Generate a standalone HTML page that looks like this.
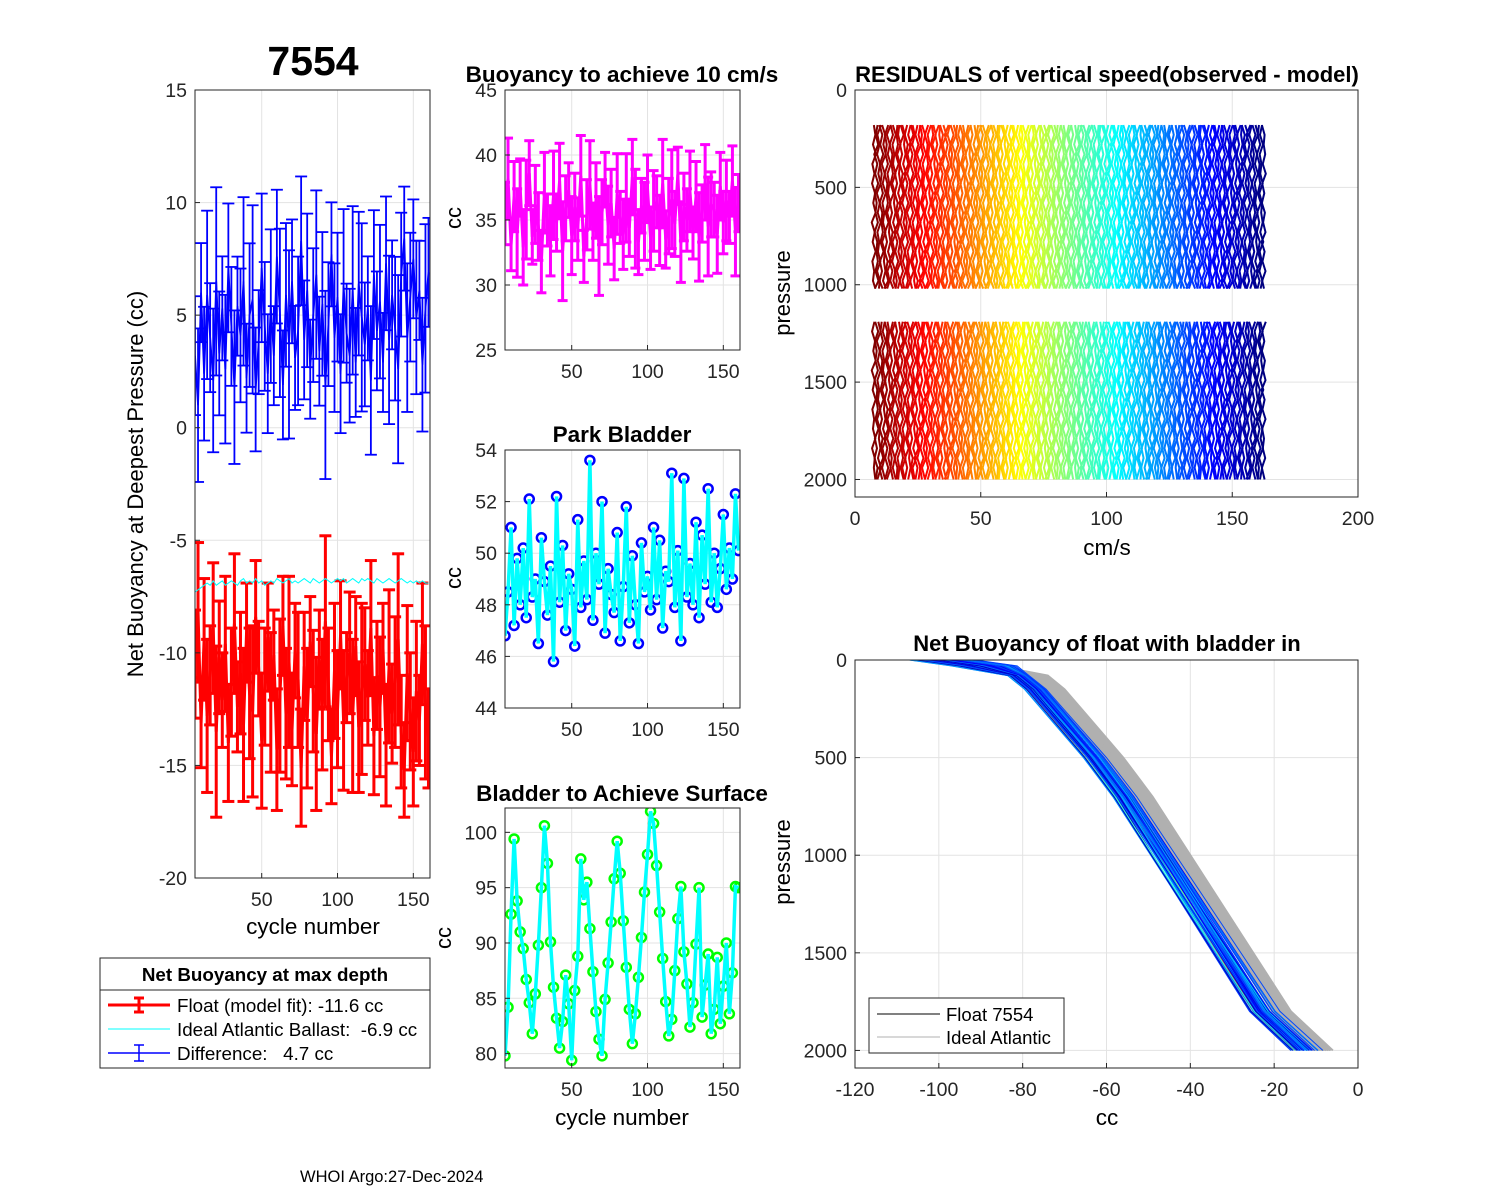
<!DOCTYPE html>
<html><head><meta charset="utf-8"><style>
body{margin:0;background:#fff;}
svg{display:block;font-family:"Liberation Sans",Arial,sans-serif;}
</style></head><body>
<svg id="fig" width="1500" height="1200" viewBox="0 0 1500 1200">
<rect width="1500" height="1200" fill="#fff"/>
<text x="313" y="75" font-size="41" font-weight="bold" text-anchor="middle">7554</text>
<text x="300" y="1182" font-size="16.5">WHOI Argo:27-Dec-2024</text>
</svg>
<script>
// ---------- data ----------
const cycles = [];
for (let c = 6; c <= 160; c += 2) cycles.push(c);
const floatFit = [-10.5,-8.2,-13.1,-9.4,-12.8,-11.0,-8.9,-13.5,-10.2,-12.1,-9.6,-14.0,-11.3,-8.7,-12.4,-10.9,-13.2,-9.1,-11.8,-12.6,-8.4,-10.7,-13.9,-11.5,-9.3,-12.2,-10.1,-14.3,-11.9,-8.8,-12.7,-10.4,-13.4,-9.9,-11.2,-15.1,-10.6,-12.9,-9.5,-11.7,-13.6,-10.3,-12.3,-8.6,-11.4,-14.6,-10.8,-12.5,-9.2,-13.0,-11.1,-10.0,-12.8,-9.7,-13.3,-11.6,-10.5,-12.0,-8.9,-13.7,-11.0,-12.4,-9.8,-14.1,-10.6,-12.7,-11.3,-9.4,-13.5,-15.2,-10.9,-12.6,-14.4,-11.7,-13.0,-9.6,-12.2,-13.8];
const floatErr = [2.4,3.1,2.0,2.7,3.4,2.2,2.9,3.8,2.5,2.1,3.0,2.6];
const idealBallast = [-7.3,-7.2,-7.1,-7.0,-6.9,-7.0,-6.8,-7.0,-6.9,-6.8,-7.0,-6.9,-6.8,-6.9,-7.0,-6.8,-6.7,-6.9,-6.8,-6.9,-6.7,-6.9,-6.8,-7.0,-6.9,-6.8,-6.9,-6.7,-6.8,-6.9,-6.8,-6.7,-6.9,-6.8,-6.9,-6.8,-6.7,-6.8,-6.9,-6.7,-6.8,-6.9,-6.8,-6.7,-6.8,-6.9,-6.8,-6.7,-6.8,-6.7,-6.9,-6.8,-6.7,-6.8,-6.9,-6.7,-6.8,-6.7,-6.8,-6.9,-6.7,-6.8,-6.9,-6.8,-6.7,-6.8,-6.9,-6.8,-6.7,-6.8,-6.9,-6.8,-6.9,-6.8,-6.9,-6.8,-6.9,-6.9];
const speedBuoy = [35.5,38.2,33.1,36.8,34.0,37.5,32.9,35.8,38.6,33.7,36.2,34.5,31.8,37.1,35.0,33.4,36.9,34.8,38.0,32.6,35.9,37.3,33.8,36.0,34.3,38.4,32.2,35.4,37.7,34.1,36.5,33.0,35.6,38.1,34.6,36.3,32.8,37.0,35.2,33.9,36.7,34.4,38.3,35.1,33.3,36.1,34.9,37.4,33.6,35.7,36.4,34.2,37.8,33.5,35.3,36.6,34.7,38.5,33.2,36.0,35.0,37.2,34.0,36.8,33.7,35.5,37.9,34.5,36.2,35.8,33.9,37.6,34.8,36.5,35.2,38.0,34.1,36.3];
const parkBladder = [46.8,48.5,51.0,47.2,49.8,48.0,50.2,47.5,52.1,48.3,49.0,46.5,50.6,48.9,47.6,49.5,45.8,52.2,48.1,50.3,47.0,49.2,48.6,46.4,51.3,47.9,49.7,48.2,53.6,47.4,50.0,48.8,52.0,46.9,49.4,48.4,47.7,50.8,46.6,48.7,51.8,47.3,49.9,48.0,46.5,50.4,48.5,49.1,47.8,51.0,48.2,50.5,47.1,49.3,48.9,53.1,47.9,50.1,46.6,52.9,48.3,49.6,48.0,51.2,47.5,50.7,48.8,52.5,48.1,50.0,47.9,49.4,51.5,48.6,50.2,49.0,52.3,50.1];
const surfBladder = [79.8,84.2,92.6,99.4,93.8,91.0,89.5,86.7,84.6,81.8,85.4,89.8,95.0,100.6,97.2,90.1,86.0,83.2,80.5,82.9,87.1,84.5,79.4,85.7,88.8,97.6,93.9,95.5,91.3,87.4,83.8,81.3,79.8,84.9,88.2,91.9,95.8,99.2,96.3,92.0,87.8,84.0,80.9,83.6,86.9,90.5,94.6,98.0,101.9,100.8,97.0,92.8,88.6,84.7,81.6,83.1,87.5,92.2,95.1,89.2,86.3,82.4,84.6,89.9,95.0,83.3,86.2,89.0,81.8,84.0,88.7,82.7,86.1,90.0,83.6,87.3,95.1,95.0];
const residualWiggle = [0.0,0.5,-0.3,0.7,-0.5,0.2,-0.6,0.4,-0.2,0.6,-0.7,0.3,-0.4,0.6,-0.5,0.1,-0.3,0.5,-0.6,0.3];
const resDepth1 = [180,230,280,330,380,430,480,530,580,630,680,730,780,830,880,930,980,1020];
const resDepth2 = [1190,1240,1290,1340,1390,1440,1490,1540,1590,1640,1690,1740,1790,1840,1890,1940,2000];
const profPressure = [0,30,80,150,250,400,500,700,1000,1300,1600,1800,2000];
const profCC = [-98,-88,-80,-76,-72,-66,-62,-55,-46,-37,-28,-22,-12];
const idealOffsets = [1.5,2.0,2.5,3.0,3.5,4.0,4.5,5.0,5.5,6.0,2.2,2.8,3.3,3.8,4.3,4.8,5.3,1.8,2.6,3.6];

const NS = "http://www.w3.org/2000/svg";
const svg = document.getElementById('fig');
function el(tag, attrs, parent) {
  const e = document.createElementNS(NS, tag);
  for (const k in attrs) e.setAttribute(k, attrs[k]);
  (parent || svg).appendChild(e);
  return e;
}
function jet(t) {
  const r = Math.min(Math.max(Math.min(4*t-1.5, -4*t+4.5),0),1);
  const g = Math.min(Math.max(Math.min(4*t-0.5, -4*t+3.5),0),1);
  const b = Math.min(Math.max(Math.min(4*t+0.5, -4*t+2.5),0),1);
  return `rgb(${Math.round(r*255)},${Math.round(g*255)},${Math.round(b*255)})`;
}
function axes(name, x0, y0, w, h, xmin, xmax, ymin, ymax, rev, xticks, yticks) {
  const g = el('g', {}, svg);
  
  
  el('rect', {x:x0, y:y0, width:w, height:h, fill:'#fff'}, g);
  const sx = v => x0 + (v - xmin) / (xmax - xmin) * w;
  const sy = v => rev ? y0 + (v - ymin) / (ymax - ymin) * h : y0 + h - (v - ymin) / (ymax - ymin) * h;
  const grid = el('g', {stroke:'#e3e3e3', 'stroke-width':1}, g);
  xticks.forEach(t => { el('line', {x1:sx(t), x2:sx(t), y1:y0, y2:y0+h}, grid); });
  yticks.forEach(t => { el('line', {x1:x0, x2:x0+w, y1:sy(t), y2:sy(t)}, grid); });
  const plot = el('g', {}, g);
  const over = el('g', {}, svg);
  el('rect', {x:x0, y:y0, width:w, height:h, fill:'none', stroke:'#262626', 'stroke-width':1}, over);
  xticks.forEach(t => {
    el('line', {x1:sx(t), x2:sx(t), y1:y0+h, y2:y0+h-5, stroke:'#262626'}, over);
    const tx = el('text', {x:sx(t), y:y0+h+28, 'font-size':19.5, 'text-anchor':'middle', fill:'#262626'}, over);
    
    
    tx.textContent = t;
  });
  yticks.forEach(t => {
    el('line', {x1:x0, x2:x0+5, y1:sy(t), y2:sy(t), stroke:'#262626'}, over);
    const tx = el('text', {x:x0-8, y:sy(t)+7, 'font-size':19.5, 'text-anchor':'end', fill:'#262626'}, over);
    
    
    tx.textContent = t;
  });
  const clipId = name + '-clip';
  const cp = el('clipPath', {id:clipId}, svg);
  el('rect', {x:x0, y:y0, width:w, height:h}, cp);
  plot.setAttribute('clip-path', `url(#${clipId})`);
  return {sx, sy, plot};
}
function label(txt, x, y, size, opts) {
  const t = el('text', Object.assign({x, y, 'font-size':size, 'text-anchor':'middle', fill:'#000'}, opts||{}));
  t.textContent = txt;
  return t;
}
function errbar(A, xs, ys, es, color, lw, cap, name) {
  const g = el('g', {stroke:color, 'stroke-width':lw, fill:'none'}, A.plot);
  
  
  xs.forEach((x, i) => {
    const px = A.sx(x), e = es[i % es.length];
    el('line', {x1:px, x2:px, y1:A.sy(ys[i]-e), y2:A.sy(ys[i]+e)}, g);
    el('line', {x1:px-cap, x2:px+cap, y1:A.sy(ys[i]-e), y2:A.sy(ys[i]-e)}, g);
    el('line', {x1:px-cap, x2:px+cap, y1:A.sy(ys[i]+e), y2:A.sy(ys[i]+e)}, g);
  });
  el('polyline', {points: xs.map((x,i)=>A.sx(x)+','+A.sy(ys[i])).join(' ')}, g);
}

// ---------- panel 1 ----------
const A1 = axes('net-buoyancy-axes', 195, 90, 235, 788, 6, 161, -20, 15, false, [50,100,150], [-20,-15,-10,-5,0,5,10,15]);
errbar(A1, cycles, floatFit, floatErr, '#ff0000', 3, 6, 'float-model-fit-series');
const diff = floatFit.map((v,i)=> idealBallast[i] - v);
errbar(A1, cycles, diff, floatErr.map(e=>e*1.1), '#0000ff', 1.8, 6, 'difference-series');
const cy = el('polyline', {points: cycles.map((x,i)=>A1.sx(x)+','+A1.sy(idealBallast[i])).join(' '), stroke:'#00ffff', fill:'none', 'stroke-width':1}, A1.plot);


let t = label('Net Buoyancy at Deepest Pressure (cc)', 0, 0, 22, {transform:'translate(143,484) rotate(-90)'});
 
t = label('cycle number', 313, 934, 22.5);  

// ---------- panel 2 ----------
const A2 = axes('speed-buoyancy-axes', 505, 90, 235, 260, 6, 161, 25, 45, false, [50,100,150], [25,30,35,40,45]);
errbar(A2, cycles, speedBuoy, floatErr, '#ff00ff', 3, 5, 'buoyancy-10cms-series');
t = label('Buoyancy to achieve 10 cm/s', 622, 82, 22.5, {'font-weight':'bold'});  
t = label('cc', 0, 0, 22, {transform:'translate(461,218) rotate(-90)'});  

// ---------- panel 3 ----------
const A3 = axes('park-bladder-axes', 505, 450, 235, 258, 6, 161, 44, 54, false, [50,100,150], [44,46,48,50,52,54]);
function circleLine(A, ys, name) {
  const g = el('g', {}, A.plot);
  
  
  cycles.forEach((x,i)=> el('circle', {cx:A.sx(x), cy:A.sy(ys[i]), r:4.5, fill:'none', stroke: name==='surface-bladder-series' ? '#00ff00' : '#0000ff', 'stroke-width':2.5}, g));
  el('polyline', {points: cycles.map((x,i)=>A.sx(x)+','+A.sy(ys[i])).join(' '), stroke:'#00ffff', fill:'none', 'stroke-width':3.5}, g);
}
circleLine(A3, parkBladder, 'park-bladder-series');
t = label('Park Bladder', 622, 442, 22.5, {'font-weight':'bold'});  
t = label('cc', 0, 0, 22, {transform:'translate(461,578) rotate(-90)'});  

// ---------- panel 4 ----------
const A4 = axes('surface-bladder-axes', 505, 808, 235, 260, 6, 161, 78.7, 102.2, false, [50,100,150], [80,85,90,95,100]);
circleLine(A4, surfBladder, 'surface-bladder-series');
t = label('Bladder to Achieve Surface', 622, 801, 22.5, {'font-weight':'bold'});  
t = label('cc', 0, 0, 22, {transform:'translate(451,938) rotate(-90)'});  
t = label('cycle number', 622, 1125, 22.5);  

// ---------- panel 5 ----------
const A5 = axes('residuals-axes', 855, 90, 503, 407, 0, 200, 0, 2090, true, [0,50,100,150,200], [0,500,1000,1500,2000]);
const rg = el('g', {fill:'none', 'stroke-width':2}, A5.plot);


cycles.forEach((c, i) => {
  const col = jet(1 - i / (cycles.length - 1));
  [resDepth1, resDepth2].forEach((ds, s) => {
    for (let k = 0; k < 2; k++) {
      const pts = ds.map((d, j) => A5.sx(c + 1.5 + k*1.0 + residualWiggle[(j + i*3 + k*7 + s*5) % residualWiggle.length]*1.2) + ',' + A5.sy(d));
      el('polyline', {points: pts.join(' '), stroke: col}, rg);
    }
  });
});
t = label('RESIDUALS of vertical speed(observed - model)', 1107, 82, 22, {'font-weight':'bold'});  
t = label('pressure', 0, 0, 22, {transform:'translate(790,293) rotate(-90)'});  
t = label('cm/s', 1107, 555, 22.5);  

// ---------- panel 6 ----------
const A6 = axes('bladder-in-axes', 855, 660, 503, 408, -120, 0, 0, 2090, true, [-120,-100,-80,-60,-40,-20,0], [0,500,1000,1500,2000]);
const gg = el('g', {fill:'none', stroke:'#b0b0b0', 'stroke-width':2}, A6.plot);


idealOffsets.forEach(o => {
  el('polyline', {points: profPressure.map((p,j)=>A6.sx(profCC[j] + o*(j<2?0.3:1)) + ',' + A6.sy(p)).join(' ')}, gg);
});
const fg = el('g', {fill:'none', 'stroke-width':1}, A6.plot);


cycles.forEach((c, i) => {
  const o = (floatFit[i] + 11.6) * 0.9;
  const tilt = (speedBuoy[i] - 35.5) * 0.8;
  const frac = i / (cycles.length - 1);
  const col = (i % 9 === 0) ? jet(1 - frac) : jet(0.06 + 0.28 * ((i * 37) % 78) / 77);
  el('polyline', {points: profPressure.map((p,j)=>A6.sx(profCC[j] - 1 + o*(j<2?2.5:0.8) + tilt*p/2000) + ',' + A6.sy(p)).join(' '), stroke: col}, fg);
});
t = label('Net Buoyancy of float with bladder in', 1107, 651, 22, {'font-weight':'bold'});  
t = label('pressure', 0, 0, 22, {transform:'translate(790,862) rotate(-90)'});  
t = label('cc', 1107, 1125, 22.5);  

// legend (bottom-right)
const lg = el('g', {});


el('rect', {x:869, y:998, width:195, height:55, fill:'#fff', stroke:'#262626'}, lg);
el('line', {x1:877, x2:940, y1:1014, y2:1014, stroke:'#000'}, lg);
el('line', {x1:877, x2:940, y1:1037, y2:1037, stroke:'#b0b0b0'}, lg);
let lt = el('text', {x:946, y:1021, 'font-size':18.5}, lg); lt.textContent = 'Float 7554';
lt = el('text', {x:946, y:1044, 'font-size':18.5}, lg); lt.textContent = 'Ideal Atlantic';

// legend (bottom-left)
const l1 = el('g', {});


el('rect', {x:100, y:958, width:330, height:110, fill:'#fff', stroke:'#262626'}, l1);
el('line', {x1:100, x2:430, y1:990, y2:990, stroke:'#262626'}, l1);
lt = el('text', {x:265, y:981, 'font-size':18.8, 'font-weight':'bold', 'text-anchor':'middle'}, l1); lt.textContent = 'Net Buoyancy at max depth';
el('line', {x1:108, x2:170, y1:1005, y2:1005, stroke:'#f00', 'stroke-width':3}, l1);
el('line', {x1:139, x2:139, y1:998, y2:1012, stroke:'#f00', 'stroke-width':3}, l1);
el('line', {x1:134, x2:144, y1:998, y2:998, stroke:'#f00', 'stroke-width':3}, l1);
el('line', {x1:134, x2:144, y1:1012, y2:1012, stroke:'#f00', 'stroke-width':3}, l1);
el('line', {x1:108, x2:170, y1:1029, y2:1029, stroke:'#00ffff', 'stroke-width':1}, l1);
el('line', {x1:108, x2:170, y1:1053, y2:1053, stroke:'#00f', 'stroke-width':1.5}, l1);
el('line', {x1:139, x2:139, y1:1045, y2:1061, stroke:'#00f', 'stroke-width':1.5}, l1);
el('line', {x1:134, x2:144, y1:1045, y2:1045, stroke:'#00f', 'stroke-width':1.5}, l1);
el('line', {x1:134, x2:144, y1:1061, y2:1061, stroke:'#00f', 'stroke-width':1.5}, l1);
lt = el('text', {x:177, y:1012, 'font-size':18.8, style:'white-space:pre'}, l1); lt.textContent = 'Float (model fit): -11.6 cc';
lt = el('text', {x:177, y:1036, 'font-size':18.8, style:'white-space:pre'}, l1); lt.textContent = 'Ideal Atlantic Ballast:  -6.9 cc';
lt = el('text', {x:177, y:1060, 'font-size':18.8, style:'white-space:pre'}, l1); lt.textContent = 'Difference:   4.7 cc';
</script>
</body></html>
